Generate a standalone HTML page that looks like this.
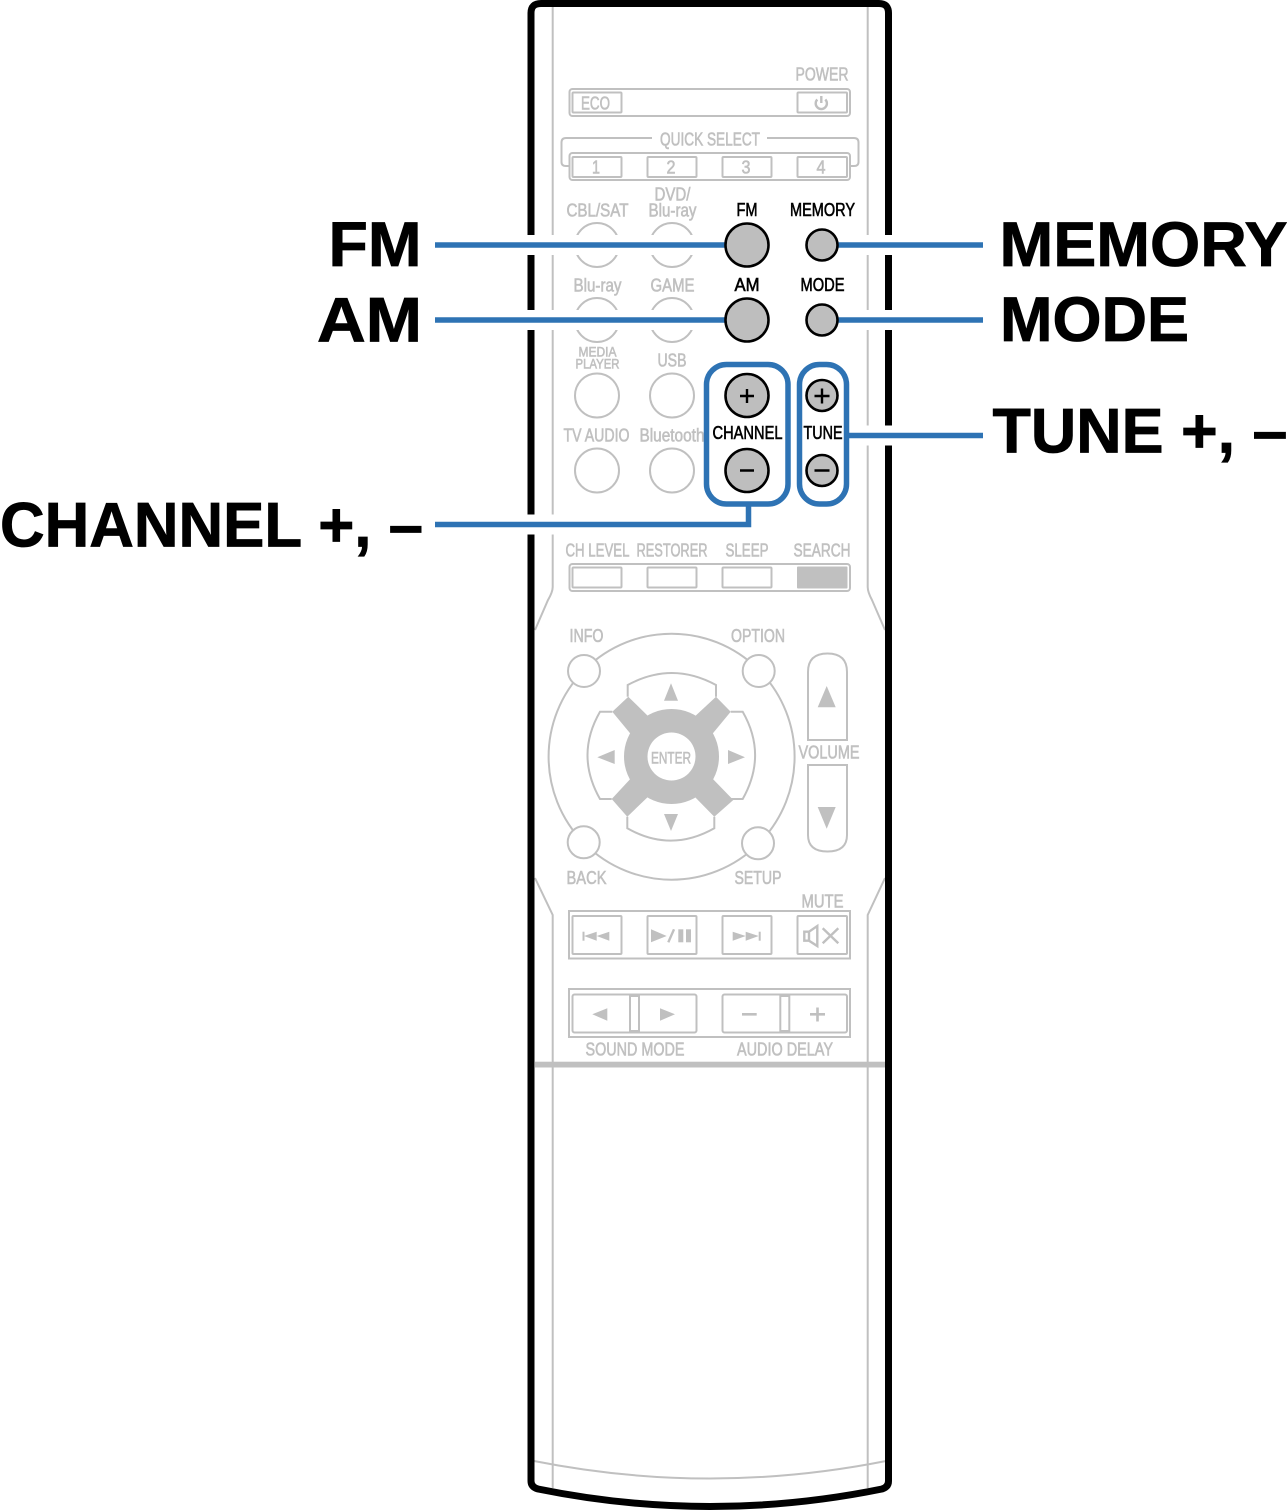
<!DOCTYPE html>
<html><head><meta charset="utf-8"><style>
html,body{margin:0;padding:0;background:#fff}
svg{display:block}
text{font-family:"Liberation Sans",sans-serif;text-anchor:middle}
.g text{fill:#c0c0c0;font-size:18px;stroke:#c0c0c0;stroke-width:.6}
.k text{fill:#000;font-size:18px;stroke:#000;stroke-width:.6}
.b text{fill:#000;font-size:63px;font-weight:bold;text-anchor:start;stroke:#000;stroke-width:.8}
.l{fill:none;stroke:#c0c0c0;stroke-width:2}
.f{fill:#c0c0c0;stroke:none}
.w{fill:#fff;stroke:#c0c0c0;stroke-width:2}
.a{fill:#bebebe;stroke:#000;stroke-width:2.6}
.h{fill:none;stroke:#fff;stroke-width:20}
.c{fill:none;stroke:#2e73b4;stroke-width:5.5}
</style></head><body>
<svg xmlns="http://www.w3.org/2000/svg" width="1287" height="1510" viewBox="0 0 1287 1510">
<!-- body inner lines -->
<path class="l" d="M552.7 5V587Q552.7 592 548 600L535 630M867.7 5V587Q867.7 592 872 600L885 630M535 878L552.7 915V1488M885 878L867.7 915V1488"/>
<path class="l" d="M534 1461Q622 1478.5 710 1478.5T886 1461"/>
<rect class="f" x="535" y="1061.7" width="350" height="5.8"/>
<!-- body outline -->
<path fill="none" stroke="#000" stroke-width="7" d="M531 1481V13Q531 3.5 541 3.5H879Q888.5 3.5 888.5 13V1481Q888.5 1487 882 1489Q796 1506.5 710 1506.5Q624 1506.5 538 1489Q531 1487 531 1481Z"/>
<!-- top panels -->
<g fill="#fff" stroke="#c0c0c0" stroke-width="2">
<rect x="569.5" y="89" width="280.5" height="27" rx="3"/>
<rect x="572.5" y="92.5" width="49" height="20" rx="1"/>
<rect x="797.5" y="92.5" width="49.5" height="20" rx="1"/>
<rect x="569.5" y="153" width="280.5" height="27" rx="3"/>
<rect x="572.5" y="157" width="49" height="20" rx="1"/>
<rect x="647.5" y="157" width="49" height="20" rx="1"/>
<rect x="722.5" y="157" width="49" height="20" rx="1"/>
<rect x="797.5" y="157" width="49.5" height="20" rx="1"/>
<rect x="569.5" y="564" width="280.5" height="27" rx="3"/>
<rect x="572.5" y="567.5" width="49" height="20" rx="1"/>
<rect x="647.5" y="567.5" width="49" height="20" rx="1"/>
<rect x="722.5" y="567.5" width="49" height="20" rx="1"/>
</g>
<rect x="797" y="566.5" width="50.5" height="22" rx="1" class="f"/>
<path class="l" d="M652 138H566Q561.5 138 561.5 142.5V162Q561.5 166 566 166H569M767 138H854Q858.5 138 858.5 142.5V162Q858.5 166 854 166H851"/>
<!-- power icon -->
<path class="l" style="stroke-width:2.4" d="M817.3 99.5A5.6 5.6 0 1 0 825.3 99.5M821.3 96V103"/>
<!-- source circles -->
<g fill="#fff" stroke="#c0c0c0" stroke-width="2">
<circle cx="597" cy="245" r="22"/><circle cx="672" cy="245" r="22"/>
<circle cx="597" cy="320" r="22"/><circle cx="672" cy="320" r="22"/>
<circle cx="597" cy="395.5" r="22"/><circle cx="672" cy="395.5" r="22"/>
<circle cx="597" cy="470.5" r="22"/><circle cx="672" cy="470.5" r="22"/>
</g>
<!-- ring and corner buttons -->
<circle class="l" cx="671.6" cy="756.7" r="123"/>
<circle class="w" cx="584" cy="671" r="16"/><circle class="w" cx="758.7" cy="671" r="16"/>
<circle class="w" cx="583.7" cy="842.3" r="16"/><circle class="w" cx="758" cy="843.3" r="16"/>
<!-- d-pad -->
<path class="l" d="M627.7 696.7V685Q671.8 661 716 685V696.7"/>
<path class="l" d="M612.3 711.7H600Q575 755 600 799H611.7"/>
<path class="l" d="M730.7 711.7H742.7Q767.5 755 742.7 799H730.7"/>
<path class="l" d="M627.3 816.7V828.3Q670.8 853 714.3 828.3V816.7"/>
<circle class="f" cx="671.5" cy="756.5" r="47.5"/>
<polygon class="f" points="612.3,711.7 628.3,696.7 652,720 634,738"/>
<polygon class="f" points="730.7,711.7 716,696.7 691,720 709,738"/>
<polygon class="f" points="611.7,799 627.3,816.7 652,793 634,775"/>
<polygon class="f" points="733.3,800 714.3,816.7 691,793 709,775"/>
<circle cx="671.5" cy="756.5" r="24" fill="#fff"/>
<polygon class="f" points="671,683.3 664,700.7 678,700.7"/>
<polygon class="f" points="597.3,757.3 614.7,750 614.7,764"/>
<polygon class="f" points="745,757.3 728,750 728,764"/>
<polygon class="f" points="671,831 664,814 678,814"/>
<!-- volume -->
<path class="l" d="M808 740V672Q808 653.5 827.5 653.5Q847 653.5 847 672V740Z"/>
<polygon class="f" points="826.7,686 817.7,707.3 835.7,707.3"/>
<path class="l" d="M808 765V835Q808 851.5 827.5 851.5Q847 851.5 847 835V765Z"/>
<polygon class="f" points="826.7,828.7 817.7,807 835.7,807"/>
<!-- transport -->
<rect class="l" x="569" y="911" width="281" height="47.5"/>
<g class="l">
<rect x="572.5" y="916" width="49" height="38" rx="1"/>
<rect x="647.5" y="916" width="49" height="38" rx="1"/>
<rect x="722.5" y="916" width="49" height="38" rx="1"/>
<rect x="797.5" y="916" width="49.5" height="38" rx="1"/>
</g>
<g class="f">
<rect x="582.5" y="931.7" width="2" height="9"/>
<polygon points="584,936 596.7,931.7 596.7,940.7"/><polygon points="596.7,936 609.3,931.7 609.3,940.7"/>
<polygon points="651,929.3 651,942.3 666.7,936"/>
<rect x="678.3" y="929.3" width="5" height="13"/><rect x="686" y="929.3" width="5" height="13"/>
<polygon points="732.7,931.7 732.7,940.7 745.7,936"/><polygon points="745.7,931.7 745.7,940.7 758.7,936"/>
<rect x="758.7" y="931.7" width="2" height="9"/>
</g>
<path class="l" style="stroke-width:2.4" d="M668.3 942.3L674 929.3M804.3 931.7H809L817.3 926V946L809 940.7H804.3ZM809 931.7V940.7M822.7 928.3L838.3 943.3M838.3 928.3L822.7 943.3"/>
<!-- sound / delay -->
<rect class="l" x="569" y="989" width="281" height="48"/>
<rect class="l" x="572.5" y="994.5" width="124" height="38" rx="2"/>
<rect class="l" x="722.5" y="994.5" width="124.5" height="38" rx="2"/>
<rect class="w" x="630" y="996" width="9" height="35"/>
<rect class="w" x="780.3" y="996" width="9" height="35"/>
<polygon class="f" points="592.3,1014.3 607.3,1008.3 607.3,1020.7"/>
<polygon class="f" points="675,1014.3 660,1008.3 660,1020.7"/>
<path class="l" style="stroke-width:2.6" d="M742 1014.3H756.7M810 1014.3H825M817.5 1007.5V1021.5"/>
<!-- gray labels -->
<g class="g" transform="translate(0,-0.4)">
<text x="822" y="81" textLength="53" lengthAdjust="spacingAndGlyphs">POWER</text>
<text x="595.5" y="110" textLength="29" lengthAdjust="spacingAndGlyphs">ECO</text>
<text x="710" y="146" textLength="100" lengthAdjust="spacingAndGlyphs">QUICK SELECT</text>
<text x="596" y="174" textLength="8" lengthAdjust="spacingAndGlyphs">1</text>
<text x="671" y="174" textLength="9" lengthAdjust="spacingAndGlyphs">2</text>
<text x="746" y="174" textLength="9" lengthAdjust="spacingAndGlyphs">3</text>
<text x="821" y="174" textLength="9" lengthAdjust="spacingAndGlyphs">4</text>
<text x="672.5" y="201" textLength="36" lengthAdjust="spacingAndGlyphs">DVD/</text>
<text x="672.5" y="217" textLength="48" lengthAdjust="spacingAndGlyphs">Blu-ray</text>
<text x="597.5" y="217" textLength="62" lengthAdjust="spacingAndGlyphs">CBL/SAT</text>
<text x="597.5" y="292" textLength="48" lengthAdjust="spacingAndGlyphs">Blu-ray</text>
<text x="672.5" y="292" textLength="44" lengthAdjust="spacingAndGlyphs">GAME</text>
<text x="597.5" y="357" textLength="38" lengthAdjust="spacingAndGlyphs" style="font-size:14px">MEDIA</text>
<text x="597.5" y="369" textLength="44" lengthAdjust="spacingAndGlyphs" style="font-size:14px">PLAYER</text>
<text x="672" y="367" textLength="29" lengthAdjust="spacingAndGlyphs">USB</text>
<text x="596.5" y="442" textLength="66" lengthAdjust="spacingAndGlyphs">TV AUDIO</text>
<text x="672" y="442" textLength="65" lengthAdjust="spacingAndGlyphs">Bluetooth</text>
<text x="597.5" y="557" textLength="64" lengthAdjust="spacingAndGlyphs">CH LEVEL</text>
<text x="672" y="557" textLength="71" lengthAdjust="spacingAndGlyphs">RESTORER</text>
<text x="747" y="557" textLength="43" lengthAdjust="spacingAndGlyphs">SLEEP</text>
<text x="822" y="557" textLength="57" lengthAdjust="spacingAndGlyphs">SEARCH</text>
<text x="586.5" y="642.5" textLength="34" lengthAdjust="spacingAndGlyphs">INFO</text>
<text x="758" y="642.5" textLength="54" lengthAdjust="spacingAndGlyphs">OPTION</text>
<text x="829" y="759" textLength="61" lengthAdjust="spacingAndGlyphs">VOLUME</text>
<text x="671" y="764" textLength="40" lengthAdjust="spacingAndGlyphs" style="font-size:17px">ENTER</text>
<text x="586.5" y="884.5" textLength="40" lengthAdjust="spacingAndGlyphs">BACK</text>
<text x="758" y="884.5" textLength="47" lengthAdjust="spacingAndGlyphs">SETUP</text>
<text x="822.5" y="908" textLength="42" lengthAdjust="spacingAndGlyphs">MUTE</text>
<text x="635" y="1056" textLength="99" lengthAdjust="spacingAndGlyphs">SOUND MODE</text>
<text x="785" y="1056" textLength="96" lengthAdjust="spacingAndGlyphs">AUDIO DELAY</text>
</g>
<!-- halos -->
<path class="h" d="M435 245H725M836 245H983M435 320H725M836 320H983M850 435.5H983M435 524.5H749"/>
<!-- connectors -->
<path class="c" d="M435 245H725M836 245H983M435 320H725M836 320H983M848 435.5H983M435 524.5H748.5V505"/>
<rect class="c" x="706.5" y="364.5" width="81.5" height="139.5" rx="20"/>
<rect class="c" x="799.5" y="364.5" width="47" height="139.5" rx="20"/>
<!-- active buttons -->
<circle class="a" cx="747" cy="245" r="21.5"/><circle class="a" cx="822" cy="245" r="15.5"/>
<circle class="a" cx="747" cy="320" r="21.5"/><circle class="a" cx="822" cy="320" r="15.5"/>
<circle class="a" cx="747" cy="395.5" r="21.5"/><circle class="a" cx="822" cy="395.5" r="15.5"/>
<circle class="a" cx="747" cy="470.5" r="21.5"/><circle class="a" cx="822" cy="470.5" r="15.5"/>
<path fill="none" stroke="#000" stroke-width="2.4" d="M740 396H754M747 389V403M740 470.5H754M814.5 396H829.5M822 388.5V403.5M814.5 470.5H829.5"/>
<!-- black small labels -->
<g class="k" transform="translate(0,-0.8)">
<text x="747" y="217" textLength="21" lengthAdjust="spacingAndGlyphs">FM</text>
<text x="822.5" y="217" textLength="65" lengthAdjust="spacingAndGlyphs">MEMORY</text>
<text x="747" y="292" textLength="25" lengthAdjust="spacingAndGlyphs">AM</text>
<text x="822.5" y="292" textLength="44" lengthAdjust="spacingAndGlyphs">MODE</text>
<text x="747.5" y="440" textLength="70" lengthAdjust="spacingAndGlyphs">CHANNEL</text>
<text x="823" y="440" textLength="39" lengthAdjust="spacingAndGlyphs">TUNE</text>
</g>
<!-- big labels -->
<g class="b">
<text x="328.5" y="266" textLength="93" lengthAdjust="spacingAndGlyphs">FM</text>
<text x="317" y="341.5" textLength="105" lengthAdjust="spacingAndGlyphs">AM</text>
<text x="0" y="546.7" textLength="423" lengthAdjust="spacingAndGlyphs">CHANNEL +, –</text>
<text x="999.5" y="266" textLength="288" lengthAdjust="spacingAndGlyphs">MEMORY</text>
<text x="1000" y="341" textLength="189" lengthAdjust="spacingAndGlyphs">MODE</text>
<text x="992.5" y="452.5" textLength="295" lengthAdjust="spacingAndGlyphs">TUNE +, –</text>
</g>
</svg>
</body></html>
